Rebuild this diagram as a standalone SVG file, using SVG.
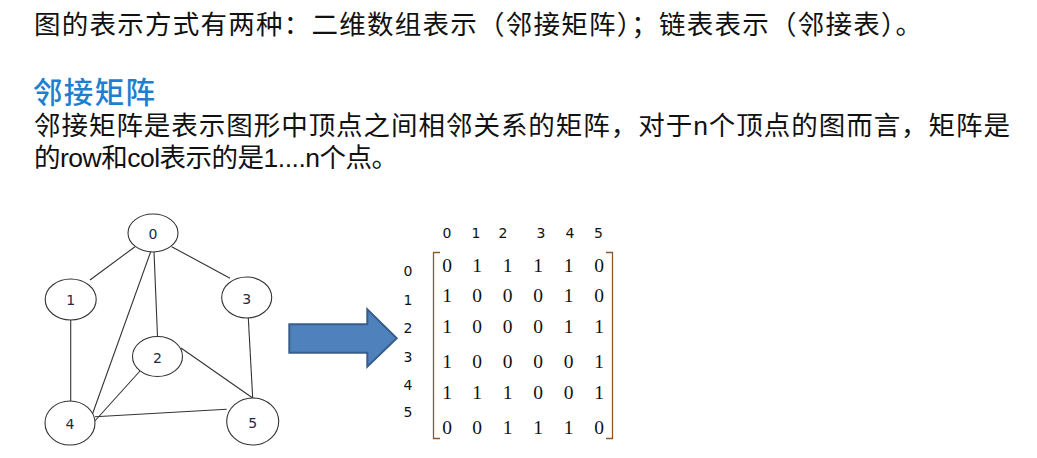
<svg xmlns="http://www.w3.org/2000/svg" width="1037" height="458" viewBox="0 0 1037 458">
<style>
.cjk{font-family:"Liberation Sans","Noto Sans CJK SC",sans-serif;font-size:26.5px;fill:#111}
.head{font-family:"Noto Sans CJK SC",sans-serif;font-size:29.5px;font-weight:500;fill:#1e7fd0}
.node ellipse{fill:#fff;stroke:#333;stroke-width:1.1}
.node text{font-family:"DejaVu Sans",sans-serif;font-size:14px;fill:#1c2a48;text-anchor:middle}
.edge line{stroke:#333;stroke-width:1.1}
.lbl{font-family:"DejaVu Sans",sans-serif;font-size:14px;fill:#111;text-anchor:middle}
.m{font-family:"Liberation Serif",serif;font-size:19.5px;fill:#111;text-anchor:middle}
.br{fill:none;stroke:#8a5a2a;stroke-width:1.3}
</style>
<rect width="1037" height="458" fill="#fff"/>
<g id="text">
<text class="cjk" x="34" y="34" textLength="888" lengthAdjust="spacing">图的表示方式有两种：二维数组表示（邻接矩阵）；链表表示（邻接表）。</text>
<text class="head" x="33" y="103" textLength="122" lengthAdjust="spacing">邻接矩阵</text>
<text class="cjk" x="34" y="135" textLength="976" lengthAdjust="spacing">邻接矩阵是表示图形中顶点之间相邻关系的矩阵，对于n个顶点的图而言，矩阵是</text>
<text class="cjk" x="34" y="167" textLength="364" lengthAdjust="spacing">的row和col表示的是1....n个点。</text>
</g>
<g id="connectors" class="edge">
<line x1="135" y1="246.7" x2="90" y2="280"/>
<line x1="171.7" y1="246.7" x2="230" y2="278.3"/>
<line x1="154" y1="251.7" x2="157.5" y2="336.5"/>
<line x1="150.7" y1="251.7" x2="86.7" y2="430"/>
<line x1="70.7" y1="320" x2="70.7" y2="401"/>
<line x1="248.3" y1="318" x2="252.7" y2="398"/>
<line x1="140" y1="371" x2="86.7" y2="430"/>
<line x1="181" y1="348" x2="252.7" y2="398"/>
<line x1="95" y1="416.7" x2="226.7" y2="409.3"/>
</g>
<g id="node0" class="node"><ellipse cx="153" cy="233" rx="25" ry="19"/><text x="153" y="238.5">0</text></g>
<g id="node1" class="node"><ellipse cx="70.7" cy="299.5" rx="25.5" ry="20.5"/><text x="70.7" y="305">1</text></g>
<g id="node3" class="node"><ellipse cx="246.7" cy="297.5" rx="25" ry="20.5"/><text x="246.7" y="304">3</text></g>
<g id="node2" class="node"><ellipse cx="157.5" cy="356.5" rx="25" ry="20"/><text x="157.5" y="362.5">2</text></g>
<g id="node4" class="node"><ellipse cx="70" cy="423" rx="25" ry="22"/><text x="70" y="429">4</text></g>
<g id="node5" class="node"><ellipse cx="252.7" cy="421.5" rx="26" ry="23.5"/><text x="252.7" y="428">5</text></g>
<g id="arrow">
<polygon points="289.3,324.3 367.3,324.3 367.3,309.3 396.7,338.3 367.3,366.7 367.3,352.7 289.3,352.7" fill="#4f81bd" stroke="#385d8a" stroke-width="2"/>
</g>
<g id="matrix">
<g class="lbl">
<text x="447" y="238">0</text><text x="476" y="238">1</text><text x="503" y="238">2</text><text x="541" y="238">3</text><text x="570" y="238">4</text><text x="598.5" y="238">5</text>
<text x="408" y="276">0</text><text x="408" y="305">1</text><text x="408" y="333">2</text><text x="408" y="362">3</text><text x="408" y="390">4</text><text x="408" y="417">5</text>
</g>
<path class="br" d="M440,252.5 H433.5 V438.5 H440"/>
<path class="br" d="M606,252.5 H612.5 V438.5 H606"/>
<g class="m">
<text y="272"><tspan x="447">0</tspan><tspan x="477">1</tspan><tspan x="507.5">1</tspan><tspan x="538">1</tspan><tspan x="568.5">1</tspan><tspan x="599">0</tspan></text>
<text y="302"><tspan x="447">1</tspan><tspan x="477">0</tspan><tspan x="507.5">0</tspan><tspan x="538">0</tspan><tspan x="568.5">1</tspan><tspan x="599">0</tspan></text>
<text y="333"><tspan x="447">1</tspan><tspan x="477">0</tspan><tspan x="507.5">0</tspan><tspan x="538">0</tspan><tspan x="568.5">1</tspan><tspan x="599">1</tspan></text>
<text y="368"><tspan x="447">1</tspan><tspan x="477">0</tspan><tspan x="507.5">0</tspan><tspan x="538">0</tspan><tspan x="568.5">0</tspan><tspan x="599">1</tspan></text>
<text y="399"><tspan x="447">1</tspan><tspan x="477">1</tspan><tspan x="507.5">1</tspan><tspan x="538">0</tspan><tspan x="568.5">0</tspan><tspan x="599">1</tspan></text>
<text y="434"><tspan x="447">0</tspan><tspan x="477">0</tspan><tspan x="507.5">1</tspan><tspan x="538">1</tspan><tspan x="568.5">1</tspan><tspan x="599">0</tspan></text>
</g>
</g>
</svg>
